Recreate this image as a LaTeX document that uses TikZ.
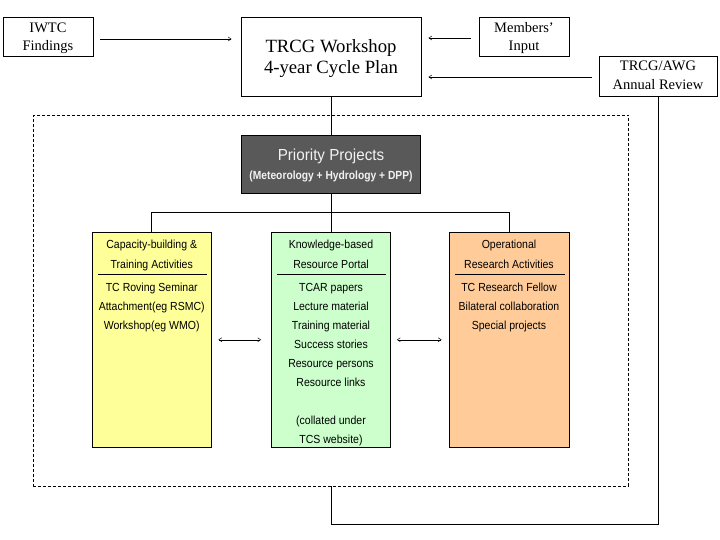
\documentclass[tikz,border=0pt]{standalone}
\usepackage{fontspec}
\setmainfont{Liberation Serif}
\newfontfamily\boxf[FakeStretch=0.9]{Liberation Sans}
\newfontfamily\priof[FakeStretch=0.95]{Liberation Sans}
\newfontfamily\subf[FakeStretch=0.87]{Liberation Sans}
\usetikzlibrary{arrows.meta,calc}
\definecolor{ylw}{HTML}{FFFF99}
\definecolor{grn}{HTML}{CCFFCC}
\definecolor{org}{HTML}{FFCC99}
\definecolor{prio}{HTML}{595959}
\tikzset{
  topbox/.style={draw=black,line width=0.8pt,inner sep=0pt},
  colbox/.style={draw=black,line width=0.8pt,inner sep=0pt,minimum height=215.5pt},
  btxt/.style={anchor=base,inner sep=0pt,font=\boxf\fontsize{11.7pt}{13pt}\selectfont},
  ttxt/.style={anchor=base,inner sep=0pt,font=\fontsize{14.5pt}{17pt}\selectfont},
  wtxt/.style={anchor=base,inner sep=0pt,font=\fontsize{18.7pt}{22pt}\selectfont},
  conn/.style={line width=0.8pt},
  arr/.style={line width=0.5pt,-{Straight Barb[length=3pt,width=4pt]}},
  darr/.style={line width=0.5pt,{Straight Barb[length=3pt,width=4pt]}-{Straight Barb[length=3pt,width=4pt]}},
  sep/.style={line width=0.8pt}
}
\begin{document}
\begin{tikzpicture}[x=1pt,y=-1pt]
\useasboundingbox (0,0) rectangle (720,540);
% dashed group
\node[draw=black,dash pattern=on 3pt off 2pt,line width=0.7pt,minimum width=595.4pt,minimum height=370.7pt,inner sep=0pt] (grp) at (331,300.65) {};
% top boxes
\node[topbox,minimum width=90pt,minimum height=39pt] (iwtc) at (48,36.5) {};
\node[ttxt] (iwtc1) at (48,32.5) {IWTC};
\node[ttxt] (iwtc2) at (48,50.5) {Findings};
\node[topbox,minimum width=180pt,minimum height=79pt] (ws) at (331,56.5) {};
\node[wtxt] (ws1) at (331,52.5) {TRCG Workshop};
\node[wtxt] (ws2) at (331,74) {4-year Cycle Plan};
\node[topbox,minimum width=90pt,minimum height=39pt] (mem) at (524,36.5) {};
\node[ttxt] (mem1) at (524,32.5) {Members'};
\node[ttxt] (mem2) at (524,50.5) {Input};
\node[topbox,minimum width=118pt,minimum height=40pt] (awg) at (658,76) {};
\node[ttxt] (awg1) at (658,71) {TRCG/AWG};
\node[ttxt] (awg2) at (658,90) {Annual Review};
% priority
\node[draw=black,fill=prio,line width=0.8pt,minimum width=179pt,minimum height=58pt,inner sep=0pt] (pr) at (331,164) {};
\node[anchor=base,inner sep=0pt,text=white!95!black,font=\priof\fontsize{16pt}{18pt}\selectfont] (pr1) at (331,160.8) {Priority Projects};
\node[anchor=base,inner sep=0pt,text=white!95!black,font=\subf\bfseries\fontsize{11.8pt}{13pt}\selectfont] (pr2) at (331,179.3) {(Meteorology + Hydrology + DPP)};
% columns
\node[colbox,fill=ylw,minimum width=118.5pt] (cap) at (151.75,339.75) {};
\node[colbox,fill=grn,minimum width=119pt] (kb) at (331,339.75) {};
\node[colbox,fill=org,minimum width=120pt] (op) at (509,339.75) {};
% yellow text
\node[btxt] (c1) at (151.75,248.6) {Capacity-building \&};
\node[btxt] (c2) at (151.75,268.6) {Training Activities};
\node[btxt] (c3) at (151.75,291) {TC Roving Seminar};
\node[btxt] (c4) at (151.75,310) {Attachment(eg RSMC)};
\node[btxt] (c5) at (151.75,329) {Workshop(eg WMO)};
\draw[sep] (98,274) -- (207,274);
% green text
\node[btxt] (k1) at (331,248.6) {Knowledge-based};
\node[btxt] (k2) at (331,268.6) {Resource Portal};
\node[btxt] (k3) at (331,291) {TCAR papers};
\node[btxt] (k4) at (331,310) {Lecture material};
\node[btxt] (k5) at (331,329) {Training material};
\node[btxt] (k6) at (331,348) {Success stories};
\node[btxt] (k7) at (331,367) {Resource persons};
\node[btxt] (k8) at (331,386) {Resource links};
\node[btxt] (k9) at (331,424) {(collated under};
\node[btxt] (k10) at (331,443) {TCS website)};
\draw[sep] (277,274) -- (386,274);
% orange text
\node[btxt] (o1) at (509,248.6) {Operational};
\node[btxt] (o2) at (509,268.6) {Research Activities};
\node[btxt] (o3) at (509,291) {TC Research Fellow};
\node[btxt] (o4) at (509,310) {Bilateral collaboration};
\node[btxt] (o5) at (509,329) {Special projects};
\draw[sep] (455,274) -- (565,274);
% connectors
\draw[arr,shorten <=7pt,shorten >=9pt] ([yshift=-2.5pt]iwtc.east) -- ([yshift=-2.5pt]iwtc.east -| ws.west);
\draw[arr,shorten <=8pt,shorten >=7pt] ([yshift=-1.5pt]mem.west) -- ([yshift=-1.5pt]mem.west -| ws.east);
\draw[arr,shorten <=7pt,shorten >=7pt] ([yshift=-1pt]awg.west) -- ([yshift=-1pt]awg.west -| ws.east);
\draw[conn] (ws.south) -- (pr.north);
\draw[conn] (pr.south) -- (kb.north);
\draw[conn] (cap.north) -- ++(0,-19) -| (op.north);
\coordinate (loopc) at (331,524);
\draw[conn] (awg.south) |- (loopc) -- (grp.south);
\draw[darr,shorten <=7pt,shorten >=10pt] (cap.east) -- (kb.west);
\draw[darr,shorten <=6pt,shorten >=7pt] (kb.east) -- (op.west);
\end{tikzpicture}
\end{document}
